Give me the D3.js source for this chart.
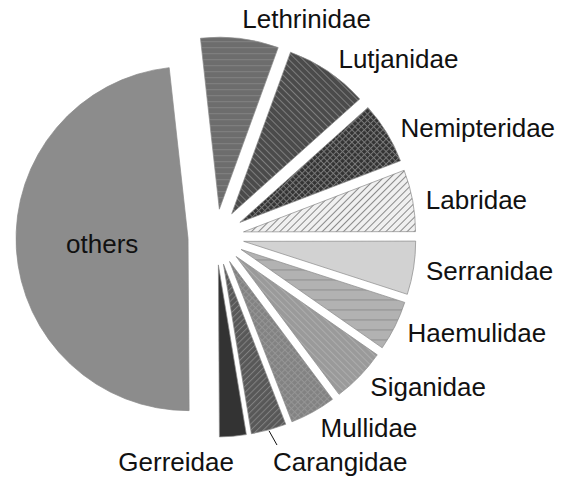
<!DOCTYPE html>
<html>
<head>
<meta charset="utf-8">
<script src="https://cdn.jsdelivr.net/npm/d3@7"></script>
<style>
  html, body { margin: 0; padding: 0; background: #fff; }
  svg { display: block; }
  text { font-family: "Liberation Sans", Arial, sans-serif; }
</style>
</head>
<body>
<script>
// ---- data ----
const categories = ["Lethrinidae","Lutjanidae","Nemipteridae","Labridae","Serranidae","Haemulidae","Siganidae","Mullidae","Carangidae","Gerreidae","others"];
const values     = [7.3, 7.8, 5.8, 5.8, 5.0, 4.7, 5.1, 4.3, 3.3, 2.5, 48.3];

// ---- fills (pattern specs) ----
const fills = [
  {bg:"#6d6d6d", fg:"#828282", type:"h",  size:6},
  {bg:"#4b4b4b", fg:"#7e7e7e", type:"bs", size:5},
  {bg:"#333333", fg:"#7a7a7a", type:"x",  size:4.4},
  {bg:"#f0f0f0", fg:"#8a8a8a", type:"fs", size:5},
  {bg:"#d2d2d2", fg:null,      type:"solid"},
  {bg:"#b2b2b2", fg:"#8e8e8e", type:"h",  size:10},
  {bg:"#9a9a9a", fg:"#adadad", type:"bs", size:4.7},
  {bg:"#828282", fg:"#959595", type:"x",  size:4.6},
  {bg:"#585858", fg:"#818181", type:"fs", size:4.4},
  {bg:"#333333", fg:null,      type:"solid"},
  {bg:"#8c8c8c", fg:null,      type:"solid"}
];

const W = 568, H = 477;
const cx = 216, cy = 237, r = 172, explode = 28;
const deg = Math.PI / 180;

const svg = d3.select("body").append("svg").attr("width", W).attr("height", H);
const defs = svg.append("defs");

fills.forEach((f, i) => {
  if (f.type === "solid") return;
  const s = f.size;
  const p = defs.append("pattern")
    .attr("id", "pat" + i)
    .attr("patternUnits", "userSpaceOnUse")
    .attr("width", s).attr("height", s);
  if (f.type === "bs") p.attr("patternTransform", "rotate(45)");
  if (f.type === "fs") p.attr("patternTransform", "rotate(-45)");
  if (f.type === "x") p.attr("patternTransform", "rotate(45)");
  p.append("rect").attr("width", s).attr("height", s).attr("fill", f.bg);
  p.append("line").attr("x1", 0).attr("x2", s).attr("y1", 0.5).attr("y2", 0.5)
    .attr("stroke", f.fg).attr("stroke-width", 1);
  if (f.type === "x") {
    p.append("line").attr("x1", 0.5).attr("x2", 0.5).attr("y1", 0).attr("y2", s)
      .attr("stroke", f.fg).attr("stroke-width", 1);
  }
});

const pie = d3.pie().sort(null).value(d => d)
  .startAngle(-6.3 * deg).endAngle(353.7 * deg);
const arcs = pie(values);
const arcGen = d3.arc().innerRadius(0).outerRadius(r);

const g = svg.append("g").attr("transform", `translate(${cx},${cy})`);

g.selectAll("path.slice").data(arcs).enter().append("path")
  .attr("class", "slice")
  .attr("transform", a => {
    const m = (a.startAngle + a.endAngle) / 2;
    return `translate(${explode * Math.sin(m)},${-explode * Math.cos(m)})`;
  })
  .attr("d", arcGen)
  .attr("fill", (a, i) => fills[i].type === "solid" ? fills[i].bg : `url(#pat${i})`)
  .attr("stroke", "#8a8a8a")
  .attr("stroke-width", 0.7);

// ---- labels ----
const R = 212;
let prevY = -Infinity;
arcs.forEach((a, i) => {
  const m = (a.startAngle + a.endAngle) / 2;
  const s = Math.sin(m), c = Math.cos(m);
  if (categories[i] === "others") {
    const [px, py] = arcGen.centroid(a);
    g.append("text")
      .attr("x", px + explode * s).attr("y", py - explode * c)
      .attr("dy", "0.35em").attr("text-anchor", "middle")
      .attr("font-size", 26).attr("fill", "#111")
      .text(categories[i]);
    return;
  }
  let x = R * s + 4 * Math.abs(Math.sin(2 * m)) * (c > 0 ? 1 : 0.5);
  let y = -(R + 9 * Math.pow(c, 4)) * c + (c > 0 ? 1.5 : 1);
  const anchor = (s < 0.1 && c < 0) ? "end" : "start";
  let moved = false;
  if (anchor === "start") {
    if (c < 0 && y < prevY + 34) { y = prevY + 34; moved = true; }
    prevY = y;
  } else {
    x = R * s;
    y = Math.max(y, prevY);
  }
  if (moved) {
    const ro = r + explode + 1;
    g.append("line")
      .attr("x1", ro * s).attr("y1", -ro * c)
      .attr("x2", x + 4).attr("y2", y - 17)
      .attr("stroke", "#111").attr("stroke-width", 1);
  }
  g.append("text")
    .attr("x", x).attr("y", y)
    .attr("dy", "0.35em").attr("text-anchor", anchor)
    .attr("font-size", 26).attr("fill", "#111")
    .text(categories[i]);
});
</script>
</body>
</html>
